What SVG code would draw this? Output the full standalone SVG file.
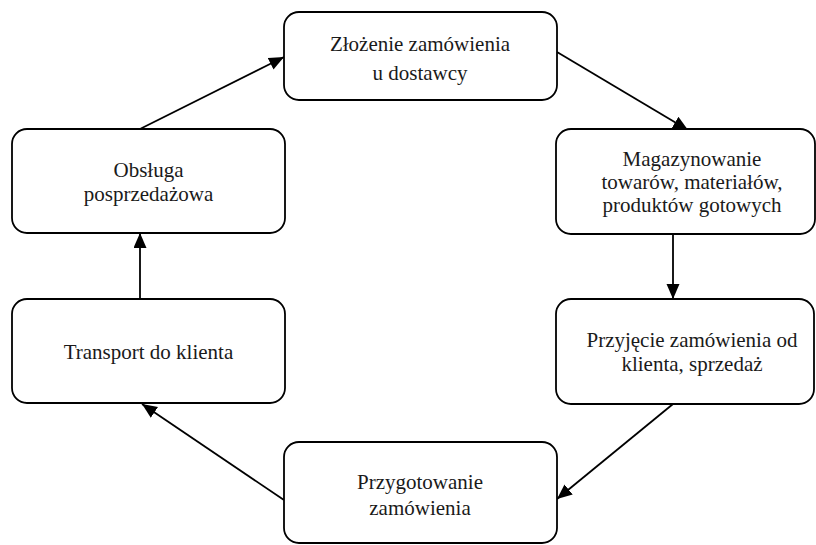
<svg xmlns="http://www.w3.org/2000/svg" width="816" height="545" viewBox="0 0 816 545">
<defs>
<marker id="arr" markerUnits="userSpaceOnUse" markerWidth="16" markerHeight="14" refX="15" refY="6.5" orient="auto">
<path d="M0,0 L15,6.5 L0,13 z" fill="#000"/>
</marker>
<style>
.box{fill:#fff;stroke:#000;stroke-width:1.8}
.t{font-family:"Liberation Serif","Times New Roman",serif;font-size:21px;fill:#1a1a1a;text-anchor:middle}
.c{stroke:#000;stroke-width:1.8;fill:none;marker-end:url(#arr)}
</style>
</defs>
<rect width="816" height="545" fill="#fff"/>
<g id="connectors">
<line class="c" x1="557" y1="52" x2="688" y2="130"/>
<line class="c" x1="673" y1="234" x2="673" y2="299"/>
<line class="c" x1="673" y1="404" x2="557" y2="499"/>
<line class="c" x1="284" y1="500" x2="142" y2="404"/>
<line class="c" x1="140" y1="299" x2="140" y2="233"/>
<line class="c" x1="140" y1="129" x2="284" y2="57"/>
</g>
<g id="n1">
<rect class="box" x="284" y="12" width="273" height="88" rx="15"/>
<text class="t" x="420" y="51">Złożenie zamówienia</text>
<text class="t" x="420" y="80">u dostawcy</text>
</g>
<g id="n2">
<rect class="box" x="556" y="129" width="259" height="105" rx="15"/>
<text class="t" x="692" y="166">Magazynowanie</text>
<text class="t" x="692" y="189">towarów, materiałów,</text>
<text class="t" x="692" y="212">produktów gotowych</text>
</g>
<g id="n3">
<rect class="box" x="556" y="299" width="258" height="105" rx="15"/>
<text class="t" x="692" y="347">Przyjęcie zamówienia od</text>
<text class="t" x="692" y="371">klienta, sprzedaż</text>
</g>
<g id="n4">
<rect class="box" x="284" y="442" width="273" height="101" rx="15"/>
<text class="t" x="420" y="489">Przygotowanie</text>
<text class="t" x="420" y="515">zamówienia</text>
</g>
<g id="n5">
<rect class="box" x="12" y="299" width="273" height="104" rx="15"/>
<text class="t" x="148.5" y="359">Transport do klienta</text>
</g>
<g id="n6">
<rect class="box" x="12" y="129" width="273" height="104" rx="15"/>
<text class="t" x="148.5" y="177">Obsługa</text>
<text class="t" x="148.5" y="201">posprzedażowa</text>
</g>
</svg>
